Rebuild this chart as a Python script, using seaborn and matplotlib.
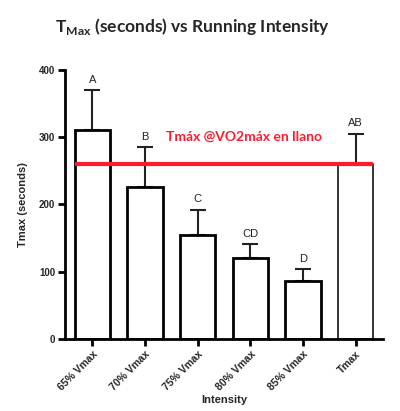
import numpy as np
import pandas as pd
import matplotlib
matplotlib.use("Agg")
import matplotlib.pyplot as plt
import seaborn as sns

# data
categories = ["65% Vmax", "70% Vmax", "75% Vmax", "80% Vmax", "85% Vmax", "Tmax"]
tmax_mean = [310, 226, 155, 120, 87, 260]
tmax_sd = [60, 59, 37, 21, 17, 45]
sig_letters = ["A", "B", "C", "CD", "D", "AB"]
ref_line = 260
ref_label = "Tmáx @VO2máx en llano"
yticks = [0, 100, 200, 300, 400]

sns.set_theme(style="ticks")
plt.rcParams["font.family"] = ["Liberation Sans", "DejaVu Sans"]

df = pd.DataFrame({"Intensity": categories, "Tmax": tmax_mean})

fig = plt.figure(figsize=(4.0, 4.11), dpi=100)
ax = fig.add_axes([0.1625, 0.175, 0.795, 0.655])

bar_w = 0.67
sns.barplot(data=df, x="Intensity", y="Tmax", color="white", edgecolor="black",
            linewidth=2, width=bar_w, errorbar=None, ax=ax, zorder=2)
# last bar drawn with a thinner outline
ax.patches[-1].set_linewidth(1.1)

x = np.arange(len(categories))
ax.errorbar(x, tmax_mean, yerr=[np.zeros(len(x)), tmax_sd], fmt="none",
            ecolor="#222222", elinewidth=1.5, capsize=6, capthick=1.5, zorder=1)

for xi, m, s, lab in zip(x, tmax_mean, tmax_sd, sig_letters):
    ax.text(xi, m + s + 8, lab, ha="center", va="bottom", fontsize=8, color="#222222")

# reference line (Tmax at VO2max on flat)
ax.plot([x[0] - bar_w / 2, x[-1] + bar_w / 2], [ref_line, ref_line],
        color="#ff1a2e", lw=3, zorder=3, solid_capstyle="butt")
ax.text(2.88, 300, ref_label, color="#ff1a2e", fontsize=10, fontweight="bold",
        family=["Lato", "DejaVu Sans"], ha="center", va="center")

ax.set_xlim(-0.52, len(categories) - 0.48)
ax.set_ylim(0, 400)
ax.set_yticks(yticks)
ax.set_xticks(x)
ax.set_xticklabels(categories, rotation=45, ha="right", rotation_mode="anchor",
                   fontsize=7.5, fontweight="bold")
for t in ax.get_yticklabels():
    t.set_fontweight("bold")
    t.set_fontsize(7)

ax.tick_params(axis="both", direction="out", length=5, width=2, color="black", pad=2)
ax.tick_params(axis="x", pad=2)
sns.despine(ax=ax)
for side in ["left", "bottom"]:
    ax.spines[side].set_linewidth(2)
    ax.spines[side].set_color("black")

ax.set_xlabel("Intensity", fontsize=8, fontweight="bold", labelpad=2)
ax.set_ylabel("Tmax (seconds)", fontsize=8, fontweight="bold", labelpad=8)

fig.text(0.4825, 0.935, r"T$_{\mathregular{Max}}$ (seconds) vs Running Intensity",
         ha="center", va="center", fontsize=12.5, fontweight="bold",
         family=["Lato", "DejaVu Sans"])

fig.savefig("out.png", dpi=100, facecolor="white")
